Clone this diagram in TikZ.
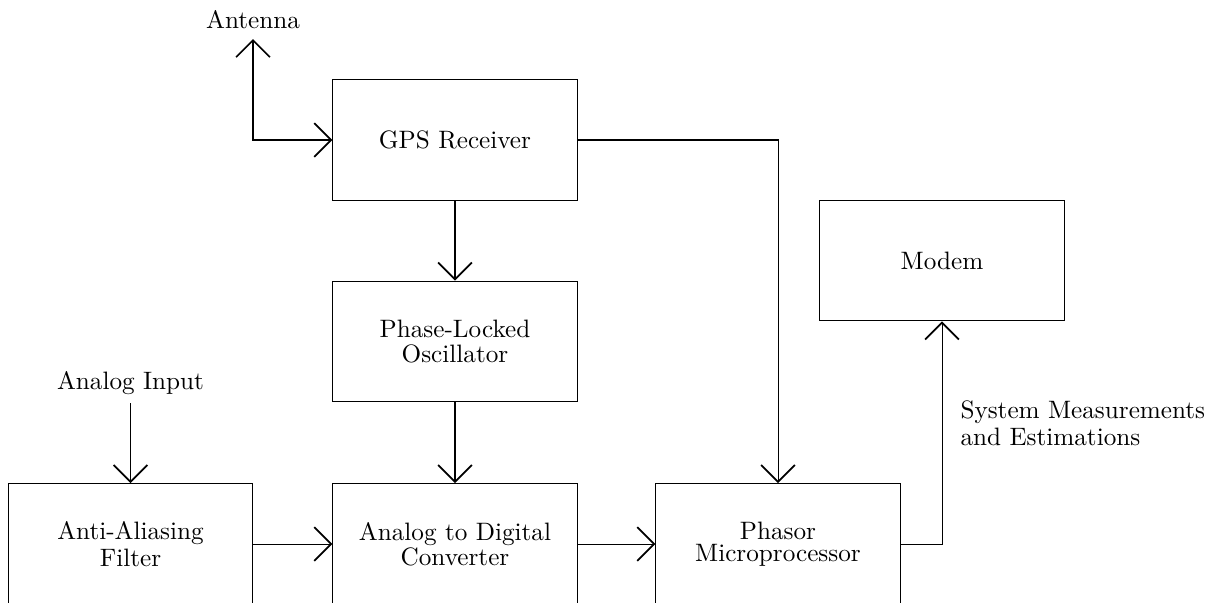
\documentclass[tikz,border=0pt]{standalone}
\usetikzlibrary{arrows.meta}
\begin{document}
\begin{tikzpicture}[x=0.397pt,y=-0.397pt,
  box/.style={draw, minimum width=96.9pt, minimum height=48pt, align=center, inner sep=0pt},
  lbl/.style={inner sep=0pt, align=left},
  tip/.style={Straight Barb[length=6.7pt,width=13.4pt,line width=0.7pt]},
  arr/.style={-{Straight Barb[length=6.7pt,width=13.4pt,line width=0.7pt]}},
  darr/.style={{Straight Barb[length=6.7pt,width=13.4pt,line width=0.7pt]}-{Straight Barb[length=6.7pt,width=13.4pt,line width=0.7pt]}}]
\useasboundingbox (0,0) rectangle (1215,603);
\node[box] (gps) at (455,140) {GPS Receiver};
\node[box] (plo) at (455,341.5) {Phase-Locked\\[-2.35pt]Oscillator};
\node[box] (aaf) at (130.5,544) {Anti-Aliasing\\[-1.2pt]Filter};
\node[box] (adc) at (455,544) {Analog to Digital\\[-2.1pt]Converter};
\node[box] (pmp) at (778,544) {Phasor\\[-3.4pt]Microprocessor};
\node[box] (mod) at (942,260.5) {Modem};
\node[lbl] (ant) at (253,20) {Antenna};
\node[lbl] (ain) at (130.5,383) {Analog Input};
\node[lbl, anchor=west] (sme) at (960,423) {System Measurements\\[-1.4pt]and Estimations};
\coordinate (antc) at (253,39);
\coordinate (ainc) at (130.5,403);
\draw[darr] (antc) |- (gps.west);
\draw[arr] (ainc) -- (aaf.north);
\draw[arr] (gps.south) -- (plo.north);
\draw[arr] (plo.south) -- (adc.north);
\draw[arr] (aaf.east) -- (adc.west);
\draw[arr] (adc.east) -- (pmp.west);
\draw[arr] (gps.east) -| (pmp.north);
\draw[arr] (pmp.east) -| (mod.south);
\end{tikzpicture}
\end{document}
